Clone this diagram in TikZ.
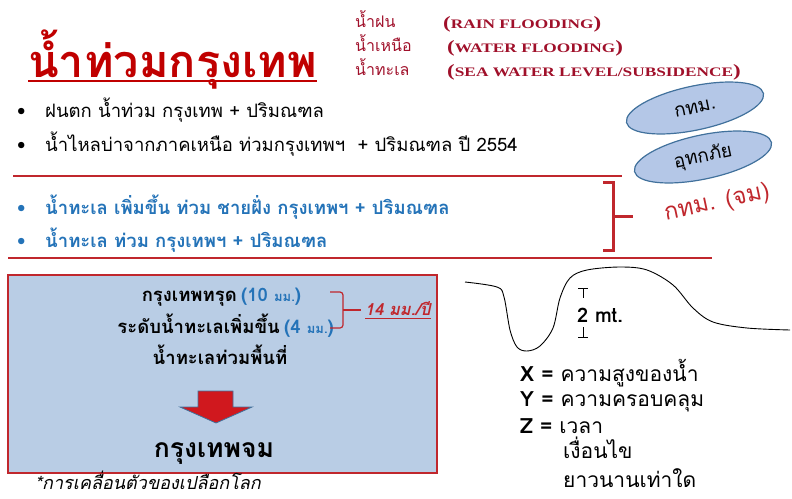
\documentclass[tikz,border=0pt]{standalone}
\usepackage{fontspec}
\setmainfont[Script=Thai]{Loma}
\newfontfamily\enserif[FakeStretch=1.33]{Liberation Serif}
\usetikzlibrary{shapes.geometric}
\definecolor{titlered}{HTML}{C00000}
\definecolor{engred}{HTML}{A0102A}
\definecolor{linered}{HTML}{C0272D}
\definecolor{txtblue}{HTML}{2473B8}
\definecolor{boxfill}{HTML}{B9CDE5}
\definecolor{ellfill}{HTML}{B4C7E7}
\definecolor{ellline}{HTML}{41719C}
\definecolor{arrowred}{HTML}{D0181E}
\tikzset{
  txt/.style={inner sep=0pt, anchor=base west},
  bul/.style={txt, font=\fontsize{18.5}{20}\selectfont},
  bulb/.style={txt, text=txtblue, font=\bfseries\fontsize{18.5}{20}\selectfont},
  ell/.style={ellipse, draw=ellline, fill=ellfill, line width=1.2pt, minimum width=140pt, minimum height=44pt, rotate=12, font=\fontsize{19}{21}\selectfont},
  engl/.style={txt, text=engred, font=\enserif\bfseries\fontsize{13}{15}\selectfont},
  thr/.style={txt, text=engred, font=\fontsize{16}{18}\selectfont},
  boxt/.style={txt, font=\bfseries\fontsize{18.5}{20}\selectfont},
  xyz/.style={txt, font=\fontsize{21}{23}\selectfont},
}
\begin{document}
\begin{tikzpicture}[x=1pt,y=-1pt]
\useasboundingbox (0,0) rectangle (792,498);
% title
\node[txt, text=titlered, font=\bfseries\fontsize{45}{47}\selectfont] (title) at (28,77) {น้ำท่วมกรุงเทพ};
\draw[titlered, line width=2pt] ([yshift=-4pt]title.base west) -- ([yshift=-4pt]title.base east);
% right top list
\node[thr] (t1) at (355,27) {น้ำฝน};
\node[thr] (t2) at (355,51) {น้ำเหนือ};
\node[thr] (t3) at (355,75) {น้ำทะเล};
\node[engl] (e1) at (443,28) {{\LARGE(}RAIN FLOODING{\LARGE)}};
\node[engl] (e2) at (447,52) {{\LARGE(}WATER FLOODING{\LARGE)}};
\node[engl] (e3) at (447,76) {{\LARGE(}SEA WATER LEVEL/SUBSIDENCE{\LARGE)}};
% black bullets
\node[bul] (b1) at (17,117) {•};
\node[bul] (l1) at (45,117) {ฝนตก น้ำท่วม กรุงเทพ + ปริมณฑล};
\node[bul] (b2) at (17,151) {•};
\node[bul] (l2) at (45,151) {น้ำไหลบ่าจากภาคเหนือ ท่วมกรุงเทพฯ~ + ปริมณฑล ปี 2554};
% red rules
\draw[linered, line width=1.5pt] (13,176) -- (622,176);
\draw[linered, line width=1.5pt] (8,258) -- (712,258);
% blue bullets
\node[bul, text=txtblue] (b3) at (17,214) {•};
\node[bulb] (l3) at (45,214) {น้ำทะเล เพิ่มขึ้น ท่วม ชายฝั่ง กรุงเทพฯ + ปริมณฑล};
\node[bul, text=txtblue] (b4) at (17,247) {•};
\node[bulb] (l4) at (45,247) {น้ำทะเล ท่วม กรุงเทพฯ + ปริมณฑล};
% bracket
\draw[linered, line width=3pt] (603,182) -- (613,182) -- (613,250) -- (603,250);
\draw[linered, line width=3pt] (613,216) -- (633,216);
\node[text=linered, rotate=12, inner sep=0pt, font=\fontsize{23.5}{25}\selectfont] (kj) at (717,203) {กทม. (จม)};
% ellipses
\node[ell] (e-bma) at (695,108) {กทม.};
\node[ell] (e-flood) at (703,157) {อุทกภัย};
% lower box
\draw[linered, line width=1.5pt, fill=boxfill] (8,275) rectangle (437,473);
\node[boxt, anchor=base east] (s1) at (237,301) {กรุงเทพทรุด};
\node[boxt, text=txtblue] (s1v) at (241,301) {(10 {\fontsize{13}{15}\selectfont มม.})};
\node[boxt, anchor=base east] (s2) at (280,333) {ระดับน้ำทะเลเพิ่มขึ้น};
\node[boxt, text=txtblue] (s2v) at (284,333) {(4 {\fontsize{13}{15}\selectfont มม.})};
\node[boxt, anchor=base] (s3) at (220,364) {น้ำทะเลท่วมพื้นที่};
% brace
\draw[linered, line width=1.2pt, rounded corners=3pt] (330,292) -- (343,292) -- (343,328) -- (330,328);
\draw[linered, line width=1.2pt] (343,310) -- (361,310);
\node[txt, text=linered, font=\bfseries\itshape\fontsize{16.5}{18}\selectfont] (rate) at (365,315) {14 มม./ปี};
\draw[linered, line width=1pt] ([yshift=-3pt]rate.base west) -- ([yshift=-3pt]rate.base east);
% down arrow
\draw[ellline, line width=0.8pt, fill=arrowred] (198,391) -- (233,391) -- (233,407) -- (252,407) -- (216,423) -- (180,407) -- (198,407) -- cycle;
\node[txt, anchor=base, font=\bfseries\fontsize{26.5}{28}\selectfont] (sink) at (214,457) {กรุงเทพจม};
% footnote
\node[txt, font=\itshape\fontsize{18}{20}\selectfont] (fn) at (35,489) {*การเคลื่อนตัวของเปลือกโลก};
% terrain curve
\draw[line width=0.9pt] plot[smooth, tension=0.55] coordinates {(465,282) (497,287) (504,297) (510,330) (517,347) (527,351) (540,346) (553,328) (560,298) (570,278) (587,270) (620,267) (647,270) (673,285) (693,308) (713,322) (747,328) (790,330)};
% 2 mt marker
\draw[line width=0.9pt] (578,288) -- (588,288) (583,288) -- (583,298);
\draw[line width=0.9pt] (583,327) -- (583,337) (578,337) -- (588,337);
\node[txt, font=\bfseries\fontsize{20}{22}\selectfont] (mt) at (577,322) {2 mt.};
% XYZ
\node[xyz] (x) at (520,381) {\textbf{X =} ความสูงของน้ำ};
\node[xyz] (y) at (520,406) {\textbf{Y =} ความครอบคลุม};
\node[xyz] (z) at (520,433) {\textbf{Z =} เวลา};
\node[xyz] (c1) at (563,458) {เงื่อนไข};
\node[xyz] (c2) at (563,487) {ยาวนานเท่าใด};
\end{tikzpicture}
\end{document}
